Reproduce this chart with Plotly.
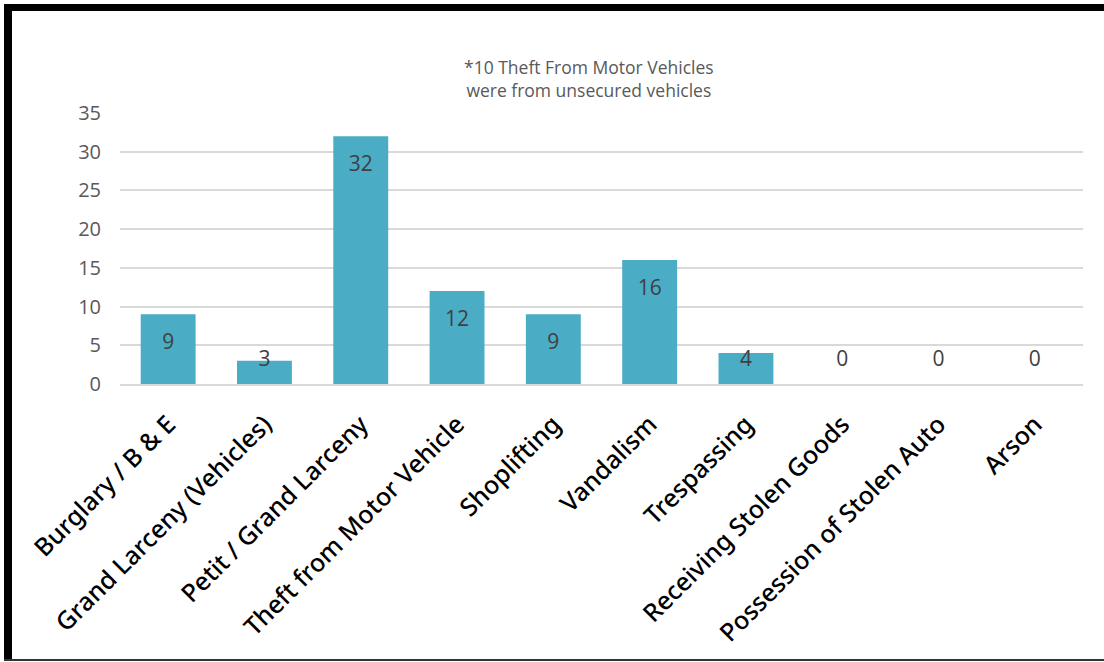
import plotly.graph_objects as go

# Offense counts
categories = [
    "Burglary / B & E",
    "Grand Larceny (Vehicles)",
    "Petit / Grand Larceny",
    "Theft from Motor Vehicle",
    "Shoplifting",
    "Vandalism",
    "Trespassing",
    "Receiving Stolen Goods",
    "Possession of Stolen Auto",
    "Arson",
]
counts = [9, 3, 32, 12, 9, 16, 4, 0, 0, 0]
y_ticks = [0, 5, 10, 15, 20, 25, 30, 35]
note_text = "*10 Theft From Motor Vehicles<br>were from unsecured vehicles"

W, H = 1104, 662
L, R, T, B = 120, 21, 113, 278
Y_MAX = 35

fig = go.Figure()
fig.add_trace(go.Bar(
    x=categories,
    y=counts,
    marker=dict(color="#4BACC6", line=dict(width=0)),
    hoverinfo="x+y",
))

# value labels near the inside end of each bar, kept clear of the axis
label_y = [max(v - 3.85, 3.0) for v in counts]
fig.add_trace(go.Scatter(
    x=categories,
    y=label_y,
    mode="text",
    text=[str(v) for v in counts],
    textfont=dict(family="Open Sans", size=21, color="#404040"),
    hoverinfo="skip",
))

fig.update_layout(
    width=W,
    height=H,
    margin=dict(l=L, r=R, t=T, b=B),
    paper_bgcolor="white",
    plot_bgcolor="white",
    showlegend=False,
    bargap=0.43,
    xaxis=dict(
        tickangle=-45,
        tickfont=dict(family="Noto Sans", size=25, color="#000000", weight=500),
        showgrid=False,
        showline=True,
        linecolor="#D9D9D9",
        linewidth=1.5,
        ticks="",
        ticklabelstandoff=14,
        fixedrange=True,
    ),
    yaxis=dict(
        range=[0, Y_MAX],
        tickvals=y_ticks,
        tickfont=dict(family="Open Sans", size=20, color="#595959"),
        showgrid=True,
        gridcolor="#D9D9D9",
        gridwidth=1.5,
        zeroline=False,
        showline=False,
        ticks="",
        ticklabelstandoff=18,
        fixedrange=True,
    ),
    annotations=[dict(
        text=note_text,
        xref="paper", yref="paper",
        x=(589 - L) / (W - L - R),
        y=(H - B - 79) / (H - T - B),
        xanchor="center", yanchor="middle",
        showarrow=False,
        font=dict(family="Open Sans", size=17.5, color="#595959"),
        align="center",
    )],
)

# outer frame around the chart
def px_x(x):
    return (x - L) / (W - L - R)

def px_y(y):
    return (H - B - y) / (H - T - B)

frame = [
    (4, 4, 12, 661),     # left edge
    (4, 4, W, 11),       # top edge
    (4, 659, W, 661),    # bottom edge
]
for x0, y0, x1, y1 in frame:
    fig.add_shape(
        type="rect", xref="paper", yref="paper",
        x0=px_x(x0), x1=px_x(x1), y0=px_y(y0), y1=px_y(y1),
        fillcolor="#000000" if y1 - y0 > 3 else "#333333",
        line=dict(width=0), layer="above",
    )

fig.write_html("out.html")
